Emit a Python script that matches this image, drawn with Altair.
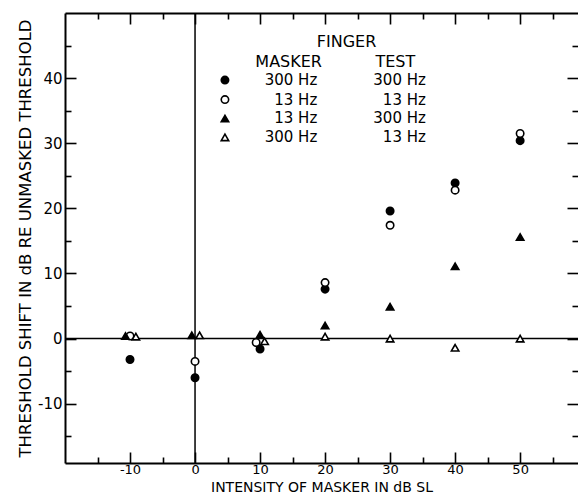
import altair as alt
import pandas as pd

# ---------------- data ----------------
series_names = ["300/300", "13/13", "13/300", "300/13"]
masker_labels = ["300 Hz", "13 Hz", "13 Hz", "300 Hz"]
test_labels = ["300 Hz", "13 Hz", "300 Hz", "13 Hz"]

x_filled_circle = [-10, 0, 10, 20, 30, 40, 50]
y_filled_circle = [-3.2, -6.0, -1.6, 7.6, 19.6, 23.9, 30.4]

x_open_circle = [-10, 0, 9.4, 20, 30, 40, 50]
y_open_circle = [0.4, -3.5, -0.6, 8.6, 17.4, 22.8, 31.5]

x_filled_tri = [-10.7, -0.5, 10, 20, 30, 40, 50]
y_filled_tri = [0.4, 0.5, 0.6, 2.0, 4.9, 11.1, 15.6]

x_open_tri = [-9.1, 0.7, 10.7, 20, 30, 40, 50]
y_open_tri = [0.3, 0.5, -0.4, 0.3, 0.0, -1.4, 0.0]

x_label_values = [-10, 0, 10, 20, 30, 40, 50]
y_label_values = [-10, 0, 10, 20, 30, 40]
x_tick_values = [-15, -10, -5, 0, 5, 10, 15, 20, 25, 30, 35, 40, 45, 50, 55]
y_tick_values = [-15, -10, -5, 0, 5, 10, 15, 20, 25, 30, 35, 40, 45]
zero_line = [0]

legend_head_text = ["FINGER", "MASKER", "TEST"]
legend_head_x = [23.3, 14.4, 30.8]
legend_head_y = [45.5, 42.5, 42.5]
legend_row_y = [39.7, 36.7, 33.8, 30.9]
legend_symbol_x = [4.6, 4.6, 4.6, 4.6]
legend_masker_x = [18.8, 18.8, 18.8, 18.8]
legend_test_x = [35.5, 35.5, 35.5, 35.5]

# ---------------- tables ----------------
pts_df = pd.DataFrame({
    "x": x_filled_circle + x_open_circle + x_filled_tri + x_open_tri,
    "y": y_filled_circle + y_open_circle + y_filled_tri + y_open_tri,
    "series": sum([[s] * 7 for s in series_names], []),
})
zero_df = pd.DataFrame({"v": zero_line})
head_df = pd.DataFrame({"x": legend_head_x, "y": legend_head_y, "t": legend_head_text})
leg_df = pd.DataFrame({
    "sx": legend_symbol_x, "mx": legend_masker_x, "tx": legend_test_x,
    "y": legend_row_y, "series": series_names,
    "m": masker_labels, "t": test_labels,
})

# ---------------- styling ----------------
W, H = 513, 450
FONT = "DejaVu Sans"
xs = alt.Scale(domain=[-20, 58.9], nice=False, zero=False)
ys = alt.Scale(domain=[-19.1, 50], nice=False, zero=False)
tick_cond = {"condition": {"test": "datum.value % 10 === 0", "value": 11}, "value": 6}

shape_scale = alt.Scale(domain=series_names, range=["circle", "circle", "triangle-up", "triangle-up"])
fill_scale = alt.Scale(domain=series_names, range=["black", "white", "black", "white"])
size_scale = alt.Scale(domain=series_names, range=[55, 55, 90, 90])

common_tick = dict(ticks=True, tickSize=tick_cond, tickWidth=1.6, tickColor="black",
                   labels=False, domain=False, title=None, grid=False)

ax_bottom = alt.Axis(orient="bottom", values=x_label_values, ticks=False, domain=True,
                     domainColor="black", domainWidth=2, labelExpr="'' + datum.value",
                     labelFont=FONT, labelFontSize=13, labelColor="black", labelPadding=0,
                     title="INTENSITY OF MASKER IN dB SL", titleFont=FONT, titleFontSize=14,
                     titleFontWeight="normal", titleColor="black",
                     titleBaseline="alphabetic", titleY=28, grid=False)
ax_left = alt.Axis(orient="left", values=y_label_values, ticks=False, domain=True,
                   domainColor="black", domainWidth=2, labelExpr="'' + datum.value",
                   labelFont=FONT, labelFontSize=15, labelColor="black", labelPadding=3,
                   title="THRESHOLD SHIFT IN dB RE UNMASKED THRESHOLD", titleFont=FONT,
                   titleFontSize=16.5, titleFontWeight="normal", titleColor="black",
                   titlePadding=4, grid=False)
ax_top_domain = alt.Axis(orient="top", ticks=False, labels=False, domain=True,
                         domainColor="black", domainWidth=2, title=None, grid=False)
ax_bottom_ticks = alt.Axis(orient="top", offset=-H, values=x_tick_values, **common_tick)
ax_top_ticks = alt.Axis(orient="bottom", offset=-H, values=x_tick_values, **common_tick)
ax_left_ticks = alt.Axis(orient="right", offset=-W, values=y_tick_values, **common_tick)
ax_right_ticks = alt.Axis(orient="left", offset=-W, values=y_tick_values, **common_tick)

# ---------------- layers ----------------
vline = alt.Chart(zero_df).mark_rule(color="black", strokeWidth=1.5).encode(
    x=alt.X("v:Q", scale=xs, axis=ax_top_domain))
hline = alt.Chart(zero_df).mark_rule(color="black", strokeWidth=1.5).encode(
    y=alt.Y("v:Q", scale=ys, axis=ax_left_ticks))

inv1 = alt.Chart(pts_df).mark_point(opacity=0).encode(
    x=alt.X("x:Q", scale=xs, axis=ax_bottom_ticks),
    y=alt.Y("y:Q", scale=ys, axis=ax_right_ticks))
inv2 = alt.Chart(pts_df).mark_point(opacity=0).encode(
    x=alt.X("x:Q", scale=xs, axis=ax_top_ticks),
    y=alt.Y("y:Q", scale=ys, axis=None))

pts = alt.Chart(pts_df).mark_point(filled=True, stroke="black", strokeWidth=1.6, opacity=1).encode(
    x=alt.X("x:Q", scale=xs, axis=ax_bottom),
    y=alt.Y("y:Q", scale=ys, axis=ax_left),
    shape=alt.Shape("series:N", scale=shape_scale, legend=None),
    fill=alt.Fill("series:N", scale=fill_scale, legend=None),
    size=alt.Size("series:N", scale=size_scale, legend=None),
)

leg_sym = alt.Chart(leg_df).mark_point(filled=True, stroke="black", strokeWidth=1.6, opacity=1).encode(
    x=alt.X("sx:Q", scale=xs, axis=None),
    y=alt.Y("y:Q", scale=ys, axis=None),
    shape=alt.Shape("series:N", scale=shape_scale, legend=None),
    fill=alt.Fill("series:N", scale=fill_scale, legend=None),
    size=alt.Size("series:N", scale=size_scale, legend=None),
)
leg_head = alt.Chart(head_df).mark_text(font=FONT, fontSize=16, color="black",
                                        align="center", baseline="middle").encode(
    x=alt.X("x:Q", scale=xs, axis=None), y=alt.Y("y:Q", scale=ys, axis=None), text="t:N")
leg_m = alt.Chart(leg_df).mark_text(font=FONT, fontSize=15, color="black",
                                    align="right", baseline="middle").encode(
    x=alt.X("mx:Q", scale=xs, axis=None), y=alt.Y("y:Q", scale=ys, axis=None), text="m:N")
leg_t = alt.Chart(leg_df).mark_text(font=FONT, fontSize=15, color="black",
                                    align="right", baseline="middle").encode(
    x=alt.X("tx:Q", scale=xs, axis=None), y=alt.Y("y:Q", scale=ys, axis=None), text="t:N")

chart = alt.layer(vline, hline, inv1, inv2, pts, leg_sym, leg_head, leg_m, leg_t).resolve_axis(
    x="independent", y="independent"
).properties(
    width=W, height=H,
    autosize=alt.AutoSizeParams(type="none"),
    padding={"left": 57, "top": 5, "right": 0, "bottom": 31},
    background="white",
).configure_view(stroke=None)

chart.save("out.html", embed_options={"renderer": "svg", "actions": False})
